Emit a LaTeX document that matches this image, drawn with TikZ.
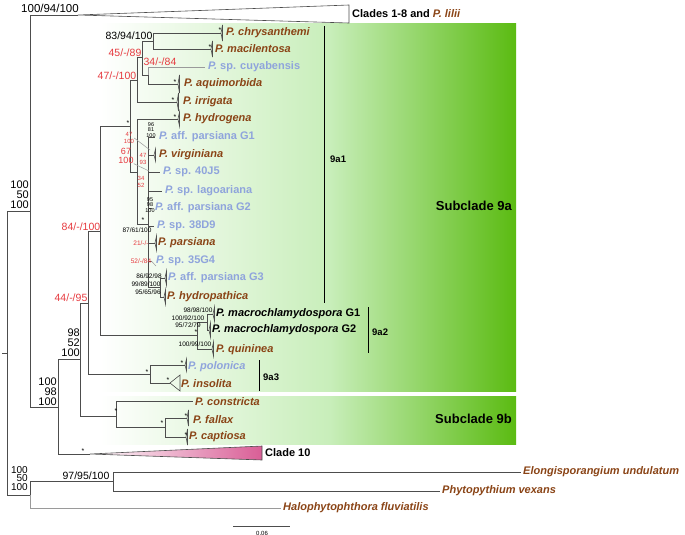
\documentclass[tikz,border=0pt]{standalone}
\usepackage{fontspec}
\setmainfont{Liberation Sans}
\definecolor{cBrown}{HTML}{8A4416}
\definecolor{cBlue}{HTML}{8FA4DC}
\definecolor{cRed}{HTML}{E63A3F}
\definecolor{cLine}{HTML}{4D4D4D}
\definecolor{cLight}{HTML}{9A9A9A}
\definecolor{gMid}{HTML}{C8EEBA}
\definecolor{gDark}{HTML}{5BBB12}
\definecolor{cPink}{HTML}{D95E96}
\newcommand\colltri[4]{\draw[edge] (#1,#2) -- ++(#3,-#4) -- ++(0,2*#4) -- cycle;}
\begin{document}
\begin{tikzpicture}[x=1pt,y=-1pt,
  edge/.style={draw=cLine,line width=0.6pt},
  ledge/.style={draw=cLight,line width=0.6pt},
  lead/.style={draw=cLight,line width=0.5pt},
  taxB/.style={anchor=west,inner sep=0pt,text=cBrown,font=\fontsize{11}{12}\selectfont\bfseries\itshape},
  taxL/.style={anchor=west,inner sep=0pt,text=cBlue,font=\fontsize{11}{12}\selectfont\bfseries},
  taxK/.style={anchor=west,inner sep=0pt,text=black,font=\fontsize{11}{12}\selectfont\bfseries\itshape},
  supK/.style={inner sep=0pt,text=black,font=\fontsize{10.5}{10}\selectfont},
  supR/.style={inner sep=0pt,text=cRed,font=\fontsize{10.5}{10}\selectfont},
  stackK/.style={inner sep=0pt,text=black,align=right,font=\fontsize{11}{9.8}\selectfont},
  smallK/.style={inner sep=0pt,text=black,font=\fontsize{6.5}{7}\selectfont},
  smallR/.style={inner sep=0pt,text=cRed,font=\fontsize{6.5}{7}\selectfont},
  tinyK/.style={inner sep=0pt,text=black,align=center,font=\fontsize{5.5}{5.2}\selectfont},
  tinyR/.style={inner sep=0pt,text=cRed,align=center,font=\fontsize{6}{6.2}\selectfont},
  star/.style={inner sep=0pt,font=\fontsize{7}{7}\selectfont},
  clab/.style={inner sep=0pt,anchor=west,font=\fontsize{9.5}{10}\selectfont\bfseries},
  subl/.style={inner sep=0pt,anchor=east,font=\fontsize{13}{14}\selectfont\bfseries},
]
\useasboundingbox (0,0) rectangle (685,535);
% background boxes
\shade[left color=white,right color=gMid] (100,24) rectangle (330,391);
\shade[left color=gMid,right color=gDark] (329.5,24) rectangle (516,391);
\shade[left color=white,right color=gMid] (100,396) rectangle (330,444);
\shade[left color=gMid,right color=gDark] (329.5,396) rectangle (516,444);
% coordinates
\coordinate (root) at (7,353);
\coordinate (rtick) at (2,353);
\coordinate (nA) at (30,211);
\coordinate (cl18) at (78,15);
\coordinate (n910) at (58,407);
\coordinate (n9) at (80,359);
\coordinate (cl10) at (90,454);
\coordinate (n9a) at (88,303);
\coordinate (n9b) at (116,416);
\coordinate (n9a12) at (100,231);
\coordinate (n9a3) at (150,374);
\coordinate (n9a1) at (130,126);
\coordinate (n9a2) at (197,335);
\coordinate (p47) at (137,80);
\coordinate (p45) at (142,57);
\coordinate (p83) at (153,41);
\coordinate (p34) at (148,75);
\coordinate (pH) at (137,172);
\coordinate (pC) at (148,224);
\coordinate (pGH) at (160,287);
\coordinate (mG) at (207,322);
\coordinate (pFC) at (165,427);
\coordinate (nB) at (30,495);
\coordinate (nO) at (113,481);
% tips
\coordinate (tchr) at (221,33);
\coordinate (tmac) at (211,49);
\coordinate (tcuy) at (205,67);
\coordinate (taqu) at (178,84);
\coordinate (tirr) at (177,102);
\coordinate (thyd) at (178,119);
\coordinate (tpg1) at (155,137);
\coordinate (tvir) at (154,155);
\coordinate (t40) at (160,172);
\coordinate (tlag) at (162,191);
\coordinate (tpg2) at (152,208);
\coordinate (t38) at (154,226);
\coordinate (tpar) at (155,243);
\coordinate (t35) at (152,261);
\coordinate (tpg3) at (165,278);
\coordinate (thpa) at (164,297);
\coordinate (tmg1) at (213,314);
\coordinate (tmg2) at (209,330);
\coordinate (tqui) at (212,349);
\coordinate (tpol) at (185,365);
\coordinate (tins) at (170,383);
\coordinate (tcon) at (193,401);
\coordinate (tfal) at (187,418);
\coordinate (tcap) at (186,437);
\coordinate (telo) at (521,472);
\coordinate (tphy) at (440,491);
\coordinate (thal) at (281,508);
% edges
\draw[edge] (rtick) -- (root);
\draw[edge] (root) |- (nA);
\draw[edge] (root) |- (nB);
\draw[edge] (nA) |- (cl18);
\draw[edge] (nA) |- (n910);
\draw[edge] (n910) |- (n9);
\draw[edge] (n910) |- (cl10);
\draw[edge] (n9) |- (n9a);
\draw[edge] (n9) |- (n9b);
\draw[edge] (n9a) |- (n9a12);
\draw[edge] (n9a) |- (n9a3);
\draw[edge] (n9a12) |- (n9a1);
\draw[edge] (n9a12) |- (n9a2);
\draw[edge] (n9a1) |- (p47);
\draw[edge] (n9a1) |- (pH);
\draw[edge] (p47) |- (p45);
\draw[edge] (p47) |- (tirr);
\draw[edge] (p45) |- (p83);
\draw[edge] (p45) |- (p34);
\draw[edge] (p83) |- (tchr);
\draw[edge] (p83) |- (tmac);
\draw[ledge] (p34) |- (tcuy);
\draw[edge] (p34) |- (taqu);
\draw[edge] (pH) |- (thyd);
\draw[edge] (pH) |- (pC);
\foreach \t in {tpg1,tvir,t40,tlag,tpg2,t38,tpar,t35,pGH}{\draw[edge] (pC) |- (\t);}
\draw[edge] (pGH) |- (tpg3);
\draw[edge] (pGH) |- (thpa);
\draw[edge] (n9a2) |- (mG);
\draw[edge] (n9a2) |- (tqui);
\draw[edge] (mG) |- (tmg1);
\draw[edge] (mG) |- (tmg2);
\draw[edge] (n9a3) |- (tpol);
\draw[edge] (n9a3) |- (tins);
\draw[edge] (n9b) |- (tcon);
\draw[edge] (n9b) |- (pFC);
\draw[edge] (pFC) |- (tfal);
\draw[edge] (pFC) |- (tcap);
\draw[edge] (nB) |- (nO);
\draw[ledge] (nB) |- (thal);
\draw[edge] (nO) |- (telo);
\draw[edge] (nO) |- (tphy);
% collapsed clades
\draw[edge] (cl18) -- (349,5) -- (349,23) -- cycle;
\shade[left color=white,right color=cPink] (cl10) -- (262,446) -- (262,460) -- cycle;
\draw[edge] (cl10) -- (262,446) -- (262,460) -- cycle;
\colltri{221}{33}{1.5}{8}
\colltri{211}{49}{1.5}{8}
\colltri{178}{84}{1.5}{9}
\colltri{177}{102}{1.5}{9}
\colltri{178}{119}{1.5}{7}
\colltri{185}{365}{1.5}{6}
\colltri{170}{383}{10}{8}
\colltri{187}{418}{1.5}{8}
\colltri{186}{437}{1.5}{8}
\colltri{212}{349}{1.5}{7}
\colltri{213}{314}{1.5}{7}
\colltri{209}{330}{1.5}{7}
\colltri{154}{155}{1.5}{6}
\colltri{155}{243}{1.5}{7}
\colltri{165}{278}{1.5}{7}
\colltri{164}{297}{1.5}{7}
% taxon labels
\node[taxB] (lchr) at (226,33) {P. chrysanthemi};
\node[taxB] (lmac) at (215,49) {P. macilentosa};
\node[taxL] (lcuy) at (208,67) {\itshape P.\upshape{} sp. cuyabensis};
\node[taxB] (laqu) at (184,84) {P. aquimorbida};
\node[taxB] (lirr) at (183,102) {P. irrigata};
\node[taxB] (lhyd) at (183,119) {P. hydrogena};
\node[taxL] (lpg1) at (159,137) {\itshape P.\upshape{} aff. parsiana G1};
\node[taxB] (lvir) at (159,155) {P. virginiana};
\node[taxL] (l40) at (163,172) {\itshape P.\upshape{} sp. 40J5};
\node[taxL] (llag) at (165,191) {\itshape P.\upshape{} sp. lagoariana};
\node[taxL] (lpg2) at (155,208) {\itshape P.\upshape{} aff. parsiana G2};
\node[taxL] (l38) at (157,226) {\itshape P.\upshape{} sp. 38D9};
\node[taxB] (lpar) at (158,243) {P. parsiana};
\node[taxL] (l35) at (156,261) {\itshape P.\upshape{} sp. 35G4};
\node[taxL] (lpg3) at (168,278) {\itshape P.\upshape{} aff. parsiana G3};
\node[taxB] (lhpa) at (167,297) {P. hydropathica};
\node[taxK] (lmg1) at (216,314) {P. macrochlamydospora \upshape G1};
\node[taxK] (lmg2) at (212,330) {P. macrochlamydospora \upshape G2};
\node[taxB] (lqui) at (216,350) {P. quininea};
\node[taxL,font=\fontsize{11}{12}\selectfont\bfseries\itshape] (lpol) at (188,367) {P. polonica};
\node[taxB] (lins) at (181,384) {P. insolita};
\node[taxB] (lcon) at (195,402) {P. constricta};
\node[taxB] (lfal) at (193,420) {P. fallax};
\node[taxB] (lcap) at (189,437) {P. captiosa};
\node[taxB] (lelo) at (523,472) {Elongisporangium undulatum};
\node[taxB] (lphy) at (442,491) {Phytopythium vexans};
\node[taxB] (lhal) at (283,508) {Halophytophthora fluviatilis};
\node[anchor=west,inner sep=0pt,font=\fontsize{11}{12}\selectfont\bfseries] (l18) at (352,14) {Clades 1-8 and \textcolor{cBrown}{\itshape P. lilii}};
\node[anchor=west,inner sep=0pt,font=\fontsize{11}{12}\selectfont\bfseries] (l10) at (265,453) {Clade 10};
% clade bars
\draw[line width=1pt] (324,26) -- (324,303);
\node[clab] (c9a1) at (330,159) {9a1};
\draw[line width=1pt] (368,307) -- (368,353);
\node[clab] (c9a2) at (372,332) {9a2};
\draw[line width=1pt] (259,360) -- (259,391);
\node[clab] (c9a3) at (263,377) {9a3};
\node[subl] (s9a) at (512,206) {Subclade 9a};
\node[subl] (s9b) at (512,419) {Subclade 9b};
% support values
\node[supK,font=\fontsize{11.5}{10}\selectfont] (s1) at (50,8) {100/94/100};
\node[stackK,anchor=north east] (s2) at (29,181) {100\\50\\100};
\node[stackK,anchor=north east] (s3) at (57,378) {100\\98\\100};
\node[stackK,anchor=north east] (s4) at (80,329) {98\\52\\100};
\node[stackK,anchor=north east,font=\fontsize{10}{8.6}\selectfont] (s5) at (28,466) {100\\50\\100};
\node[supK] (s6) at (86,476) {97/95/100};
\node[supR] (s7) at (71,298) {44/-/95};
\node[supR] (s8) at (81,227) {84/-/100};
\node[supK] (s9) at (129,36) {83/94/100};
\node[supR] (s10) at (125,53) {45/-/89};
\node[supR] (s11) at (160,62) {34/-/84};
\node[supR] (s12) at (117,76) {47/-/100};
\node[smallK] (s13) at (137,230) {87/61/100};
\node[smallR] (s14) at (141,243) {21/-/-};
\node[smallR] (s15) at (141,261) {52/-/84};
\node[smallK] (s16) at (149,276) {86/92/98};
\node[smallK] (s17) at (146,284) {99/89/100};
\node[smallK] (s18) at (148,292) {95/65/96};
\node[smallK] (s19) at (198,310) {98/98/100};
\node[smallK] (s20) at (188,318) {100/92/100};
\node[smallK] (s21) at (188,325) {95/72/79};
\node[smallK] (s22) at (195,344) {100/99/100};
\node[tinyR] (s23) at (129,138) {47\\100};
\node[supR,align=center,font=\fontsize{9}{8.5}\selectfont] (s24) at (126,156) {67\\100};
\node[tinyR] (s25) at (143,159) {47\\93};
\node[tinyR] (s26) at (141,182) {34\\52};
\node[tinyK] (s27) at (151,130) {96\\81\\100};
\node[tinyK] (s28) at (150,205) {95\\98\\100};
% leader lines
\coordinate (k1) at (150,150);
\coordinate (k2) at (149,171);
\coordinate (k3) at (156,266);
\draw[lead] (s23.east) -- (k1);
\draw[lead] (s24.south east) -- (k2);
\draw[lead] (s15.east) -- (k3);
% stars
\foreach \p in {(220,30),(210,47),(175,82),(173,100),(175,117),(128,123),(143,220),(196,332),(147,372),(182,363),(168,380),(116,411),(162,423),(186,416),(186,435),(83,451)}{\node[star] at \p {*};}
% scale bar
\draw[edge] (233,526) -- (290,526);
\node[inner sep=0pt,font=\fontsize{6}{6}\selectfont] (sc) at (262,533) {0.06};
\end{tikzpicture}
\end{document}
